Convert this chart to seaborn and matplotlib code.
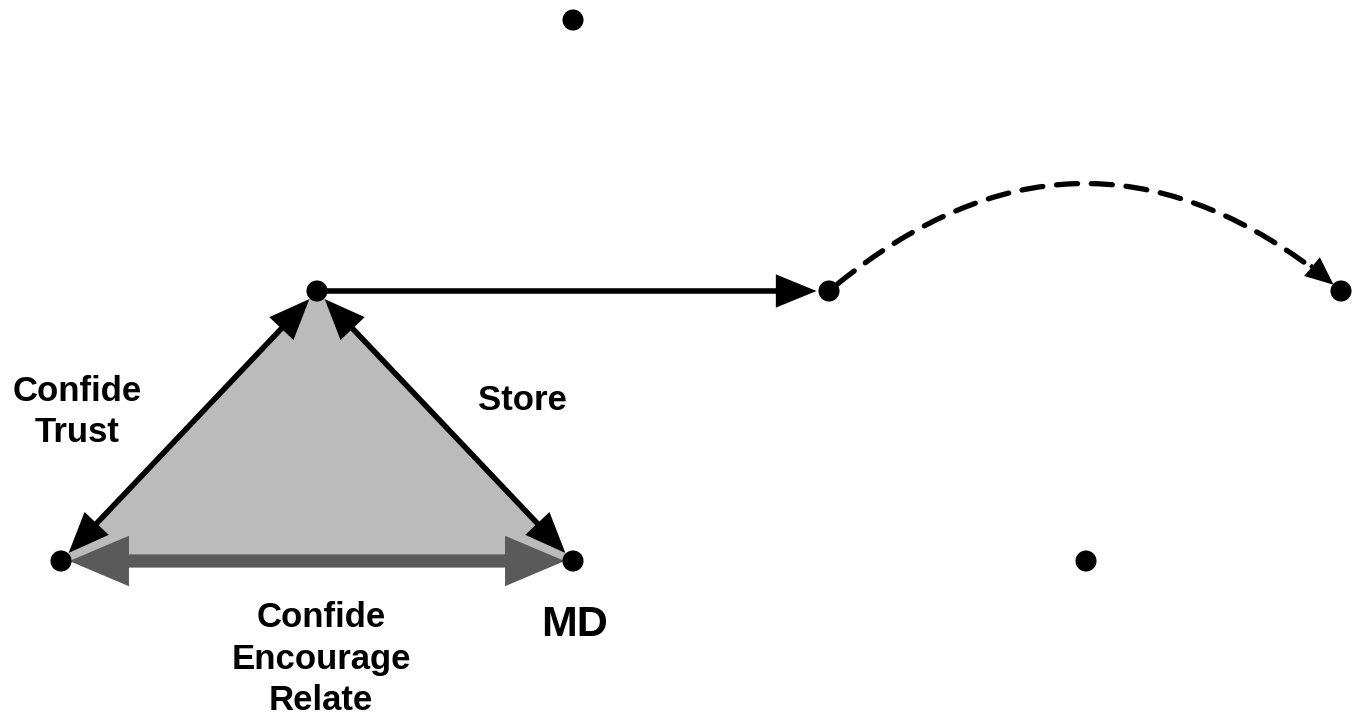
import numpy as np
import matplotlib.pyplot as plt
import seaborn as sns
from matplotlib.patches import FancyArrowPatch, Polygon

# Node positions (pixel-like coordinates, y grows downward)
node_names = ["top", "apex", "mid", "right", "left", "md", "lowright"]
node_x = [573, 317, 829, 1341, 61, 573, 1086]
node_y = [20, 291, 291, 291, 561, 561, 561]

# Shaded triangle between these nodes
triangle_nodes = ["apex", "left", "md"]

# Labels: text, x, y, size
label_text = ["Confide\nTrust", "Store", "Confide\nEncourage\nRelate", "MD"]
label_x = [77, 522, 321, 575]
label_y = [412, 401, 659, 625]
label_size = [25, 25, 25, 31]

sns.set_style("white")
plt.rcParams['font.family'] = ['Liberation Sans', 'DejaVu Sans']

pos = {n: (x, y) for n, x, y in zip(node_names, node_x, node_y)}

fig = plt.figure(figsize=(13.6, 7.22), dpi=100)
ax = fig.add_axes([0, 0, 1, 1])
ax.set_xlim(0, 1360)
ax.set_ylim(722, 0)
ax.axis("off")

# gray triangle
tri = Polygon([pos[n] for n in triangle_nodes], closed=True,
              facecolor="#bbbbbb", edgecolor="none", zorder=1)
ax.add_patch(tri)


def arrow(a, b, style, color="black", lw=4.0, ms=1, ls="-", sa=7, sb=7, cs="arc3", z=3):
    p = FancyArrowPatch(pos[a] if isinstance(a, str) else a,
                        pos[b] if isinstance(b, str) else b,
                        arrowstyle=style, color=color, lw=lw, linestyle=ls,
                        mutation_scale=ms, shrinkA=sa, shrinkB=sb,
                        connectionstyle=cs, zorder=z, joinstyle="miter",
                        capstyle="butt")
    ax.add_patch(p)
    return p


# bottom thick gray double arrow
arrow("left", "md", "<|-|>,head_length=26,head_width=11", color="#5a5a5a",
      lw=9.5, sa=6, sb=6, z=2)
# triangle sides
arrow("apex", "left", "<|-|>,head_length=22,head_width=9", sa=8, sb=8)
arrow("apex", "md", "<|-|>,head_length=22,head_width=9", sa=8, sb=8)
# horizontal arrow
arrow("apex", "mid", "-|>,head_length=22,head_width=9", sa=0, sb=9)

# dashed arc
rad = -0.42
arc = FancyArrowPatch(pos["mid"], pos["right"], arrowstyle="-", color="black",
                      lw=3.8, linestyle=(0, (4, 2.6)), shrinkA=8, shrinkB=24,
                      connectionstyle=f"arc3,rad={rad}", zorder=3, capstyle="round")
ax.add_patch(arc)
# arrow head at the end of the arc, along end tangent
(x1, y1), (x2, y2) = pos["mid"], pos["right"]
cx = (x1 + x2) / 2
cy = (y1 + y2) / 2 + rad * (x2 - x1)
d = np.array([x2 - cx, y2 - cy])
d = d / np.linalg.norm(d)
start = (x2 - 40 * d[0], y2 - 40 * d[1])
arrow(start, "right", "-|>,head_length=15,head_width=6.5", sa=0, sb=7, lw=3.0)

# nodes
sns.scatterplot(x=node_x, y=node_y, ax=ax, s=230, color="black",
                edgecolor="none", zorder=5, legend=False)

for t, x, y, s in zip(label_text, label_x, label_y, label_size):
    ax.text(x, y, t, ha="center", va="center", fontsize=s, fontweight="bold",
            linespacing=1.32, color="black")

fig.savefig("out.png", dpi=100, facecolor="white")
